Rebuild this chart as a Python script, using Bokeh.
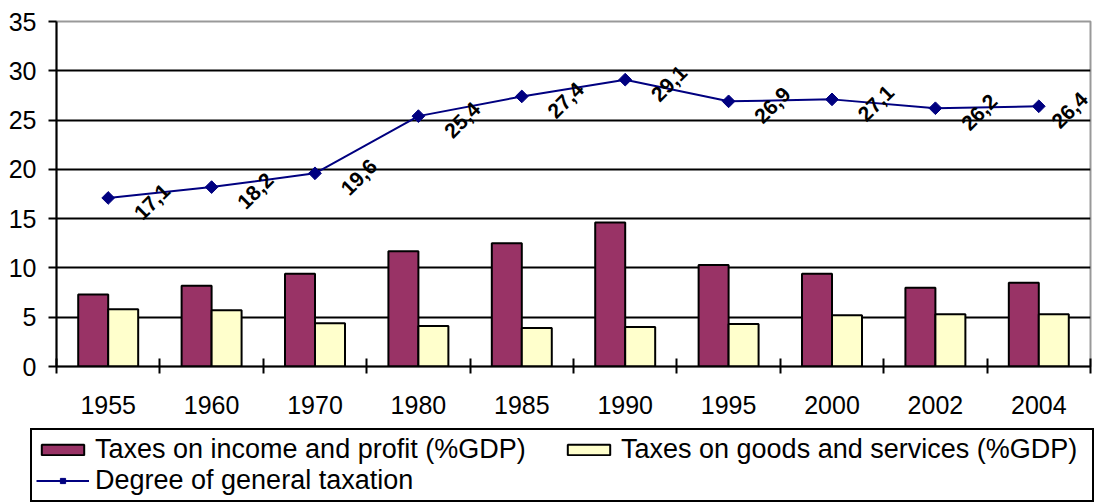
import numpy as np
from bokeh.plotting import figure
from bokeh.layouts import column
from bokeh.models import (Range1d, FixedTicker, Legend, LegendItem, ColumnDataSource)
from bokeh.core.properties import value
from bokeh.embed import file_html
from bokeh.resources import INLINE

years = ["1955", "1960", "1970", "1980", "1985", "1990", "1995", "2000", "2002", "2004"]
income_profit = [7.3, 8.2, 9.4, 11.7, 12.5, 14.6, 10.3, 9.4, 8.0, 8.5]
goods_services = [5.8, 5.7, 4.4, 4.1, 3.9, 4.0, 4.3, 5.2, 5.3, 5.3]
general_taxation = [17.1, 18.2, 19.6, 25.4, 27.4, 29.1, 26.9, 27.1, 26.2, 26.4]
series_names = ["Taxes on income and profit (%GDP)",
                "Taxes on goods and services (%GDP)",
                "Degree of general taxation"]

FONT = "Liberation Sans"
MAROON = "#993366"
CREAM = "#FFFFCC"
NAVY = "#000080"
n = len(years)
xc = np.arange(n) + 0.5

p = figure(width=1100, height=425, output_backend="svg", toolbar_location=None,
           x_range=Range1d(0, n), y_range=Range1d(0, 35),
           min_border_left=56, min_border_right=10, min_border_top=21, min_border_bottom=59)
p.frame_align = False
p.background_fill_color = "white"
p.border_fill_color = "white"
p.outline_line_color = "#999999"
p.outline_line_width = 2

# grid
p.xgrid.visible = False
p.ygrid.ticker = FixedTicker(ticks=[5, 10, 15, 20, 25, 30])
p.ygrid.grid_line_color = "black"
p.ygrid.grid_line_width = 2

# y axis
p.yaxis.ticker = FixedTicker(ticks=[0, 5, 10, 15, 20, 25, 30, 35])
p.yaxis.axis_line_color = "black"
p.yaxis.axis_line_width = 2
p.yaxis.major_tick_in = 0
p.yaxis.major_tick_out = 8
p.yaxis.major_tick_line_width = 2
p.yaxis.minor_tick_line_color = None
p.yaxis.major_label_text_font = FONT
p.yaxis.major_label_text_font_size = "25px"
p.yaxis.major_label_text_color = "black"
p.yaxis.major_label_standoff = 12

# x axis: labels at category centres, tick marks between categories
p.xaxis.ticker = FixedTicker(ticks=list(xc), minor_ticks=list(range(n + 1)))
p.xaxis.major_label_overrides = {float(x): y for x, y in zip(xc, years)}
p.xaxis.axis_line_color = "black"
p.xaxis.axis_line_width = 2
p.xaxis.major_tick_in = 0
p.xaxis.major_tick_out = 0
p.xaxis.minor_tick_in = 8
p.xaxis.minor_tick_out = 7
p.xaxis.minor_tick_line_color = "black"
p.xaxis.minor_tick_line_width = 2
p.xaxis.major_label_text_font = FONT
p.xaxis.major_label_text_font_size = "25px"
p.xaxis.major_label_text_color = "black"
p.xaxis.major_label_standoff = 22

bw = 0.29
p.vbar(x=xc - bw / 2, top=income_profit, width=bw, fill_color=MAROON,
       line_color="black", line_width=2)
p.vbar(x=xc + bw / 2, top=goods_services, width=bw, fill_color=CREAM,
       line_color="black", line_width=2)

p.line(xc, general_taxation, line_color=NAVY, line_width=2)
p.scatter(xc, general_taxation, marker="square", angle=np.pi / 4, size=9,
          fill_color=NAVY, line_color=NAVY)

labels = [f"{v:.1f}".replace(".", ",") for v in general_taxation]
x_off = [44] * (n - 1) + [31]   # last label pulled inside the plot area
src = ColumnDataSource(dict(x=xc, y=general_taxation, t=labels, xo=x_off))
p.text(x="x", y="y", text="t", x_offset="xo", y_offset=4, angle=np.pi / 4,
       text_font=value(FONT), text_font_style="bold", text_font_size="21px",
       text_align="center", text_baseline="middle", text_color="black", source=src)

# legend strip below the chart (carrier glyphs hold NaN only, so nothing is plotted)
lg = figure(width=1100, height=78, output_backend="svg", toolbar_location=None,
            x_axis_type=None, y_axis_type=None,
            x_range=Range1d(0, 1), y_range=Range1d(0, 1),
            min_border_left=0, min_border_right=0, min_border_top=0, min_border_bottom=0)
lg.frame_align = False
lg.grid.visible = False
lg.outline_line_color = None
lg.background_fill_color = "white"
lg.border_fill_color = "white"
carrier = ColumnDataSource(dict(x=[np.nan], y=[np.nan]))
d1 = lg.vbar(x="x", top="y", width=0.1, fill_color=MAROON, line_color="black",
             line_width=2, source=carrier)
d2 = lg.vbar(x="x", top="y", width=0.1, fill_color=CREAM, line_color="black",
             line_width=2, source=carrier)
d3 = lg.line(x="x", y="y", line_color=NAVY, line_width=2, source=carrier)
d4 = lg.scatter(x="x", y="y", marker="square", angle=np.pi / 4, size=10,
                fill_color=NAVY, line_color=NAVY, source=carrier)

legend = Legend(items=[
    LegendItem(label=series_names[0], renderers=[d1]),
    LegendItem(label=series_names[2], renderers=[d3, d4]),
    LegendItem(label=series_names[1], renderers=[d2]),
], orientation="vertical", ncols=2, location=(30, 1))
legend.label_text_font = FONT
legend.label_text_font_size = "27px"
legend.label_text_color = "black"
legend.border_line_color = "black"
legend.border_line_width = 2
legend.border_line_alpha = 1.0
legend.background_fill_color = "white"
legend.background_fill_alpha = 1.0
legend.glyph_width = 53
legend.glyph_height = 13
legend.label_standoff = 6
legend.label_width = 467
legend.spacing = 0
legend.padding = 4
legend.margin = 0
lg.add_layout(legend, "center")

open("out.html", "w").write(file_html(column(p, lg), INLINE))
